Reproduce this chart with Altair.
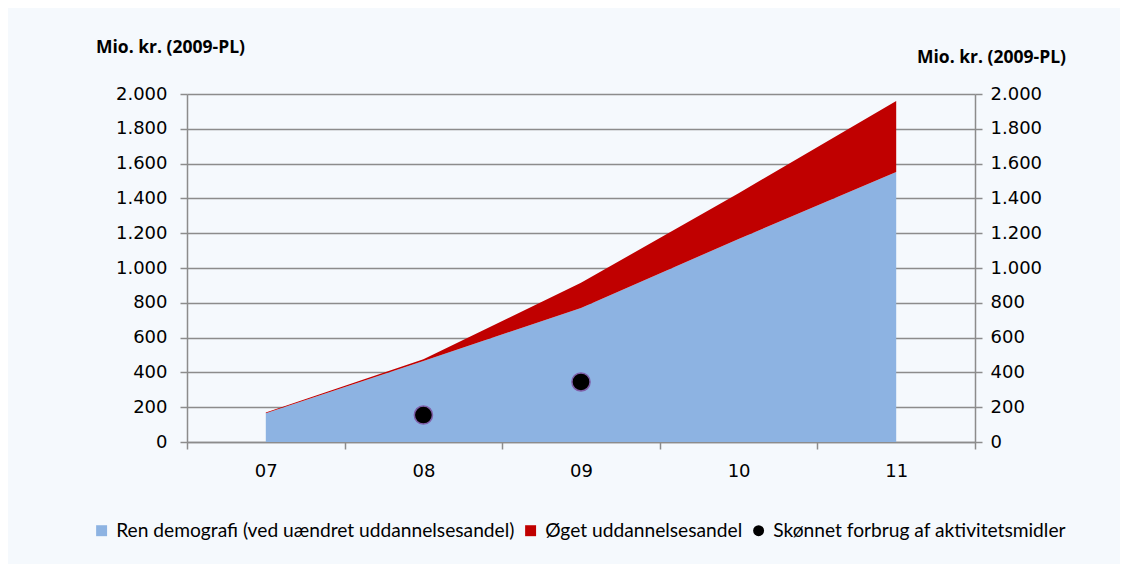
import altair as alt
import pandas as pd

years = ["07", "08", "09", "10", "11"]
demografi = [165, 466, 770, 1167, 1552]
oeget = [5, 10, 145, 263, 408]
aktivitet_years = ["08", "09"]
aktivitet = [155, 345]

s1 = "Ren demografi (ved uændret uddannelsesandel)"
s2 = "Øget uddannelsesandel"
s3 = "Skønnet forbrug af aktivitetsmidler"
series = [s1, s2, s3]
colors = ["#8db3e2", "#c00000", "#000000"]
y_ticks = list(range(0, 2001, 200))

area_df = pd.DataFrame(
    [{"year": y, "value": v, "series": s1, "ord": 0} for y, v in zip(years, demografi)]
    + [{"year": y, "value": v, "series": s2, "ord": 1} for y, v in zip(years, oeget)]
)
pt_df = pd.DataFrame({"year": aktivitet_years, "value": aktivitet, "series": [s3] * len(aktivitet)})

FONT = "DejaVu Sans"
TFONT = "Open Sans"
LFONT = "Lato"
GRID = "#8c8c8c"
xscale = alt.Scale(type="band", domain=years, paddingInner=0, paddingOuter=0)
yscale = alt.Scale(domain=[0, 2000], nice=False, zero=True)
color_scale = alt.Scale(domain=series, range=colors)
label_expr = "replace(format(datum.value, ','), ',', '.')"

x_enc = alt.X(
    "year:O", scale=xscale, bandPosition=0.5, sort=years,
    axis=alt.Axis(title=None, tickBand="extent", labelAngle=0, labelFontSize=18,
                  labelPadding=13, tickSize=7, domainColor=GRID, tickColor=GRID,
                  domainWidth=1.5, tickWidth=1.5, labelColor="#000", labelFont=FONT),
)

common = dict(
    title="Mio. kr. (2009-PL)", titleAngle=0, titleAlign="center", titleBaseline="middle",
    titleFontSize=17.5, titleFontWeight="bold", titleFont=TFONT,
    titleColor="#000", values=y_ticks, labelExpr=label_expr, labelFontSize=18,
    labelFont=FONT, labelColor="#000", tickSize=7,
    domainColor=GRID, tickColor=GRID, domainWidth=1.5, tickWidth=1.5,
)
left_axis = alt.Axis(titleX=-17, titleY=-47, labelPadding=13, grid=True,
                     gridColor=GRID, gridWidth=1.5, orient="left", **common)
right_axis = alt.Axis(titleX=16, titleY=-37, labelPadding=8, grid=False,
                      orient="right", **common)

legend = alt.Legend(
    title=None, orient="none", direction="horizontal", legendX=-95, legendY=427,
    labelFontSize=19.2, labelFont=LFONT, labelColor="#000", symbolSize=120,
    labelOffset=5, columnPadding=6, symbolStrokeWidth=0, labelLimit=0,
)

areas = alt.Chart(area_df).mark_area(opacity=1).encode(
    x=x_enc,
    y=alt.Y("value:Q", stack="zero", scale=yscale, axis=left_axis),
    color=alt.Color("series:N", scale=color_scale, legend=legend),
    order=alt.Order("ord:Q"),
)

points = alt.Chart(pt_df).mark_point(filled=True, size=330, opacity=1, stroke="#7f5fa8", strokeWidth=1.5).encode(
    x=x_enc,
    y=alt.Y("value:Q", scale=yscale, axis=right_axis),
    color=alt.Color("series:N", scale=color_scale, legend=legend),
    shape=alt.Shape("series:N", scale=alt.Scale(domain=series, range=["square", "square", "circle"]), legend=legend),
)

chart = (
    alt.layer(areas, points)
    .resolve_scale(y="shared")
    .resolve_axis(y="independent")
    .properties(
        width=788, height=348,
        autosize=alt.AutoSizeParams(type="none"),
        padding={"left": 179, "top": 86, "right": 145, "bottom": 122},
        background="#f5f9fd",
    )
    .configure_view(stroke=None)
)

chart.save("out.html", embed_options={"renderer": "svg", "actions": False})
